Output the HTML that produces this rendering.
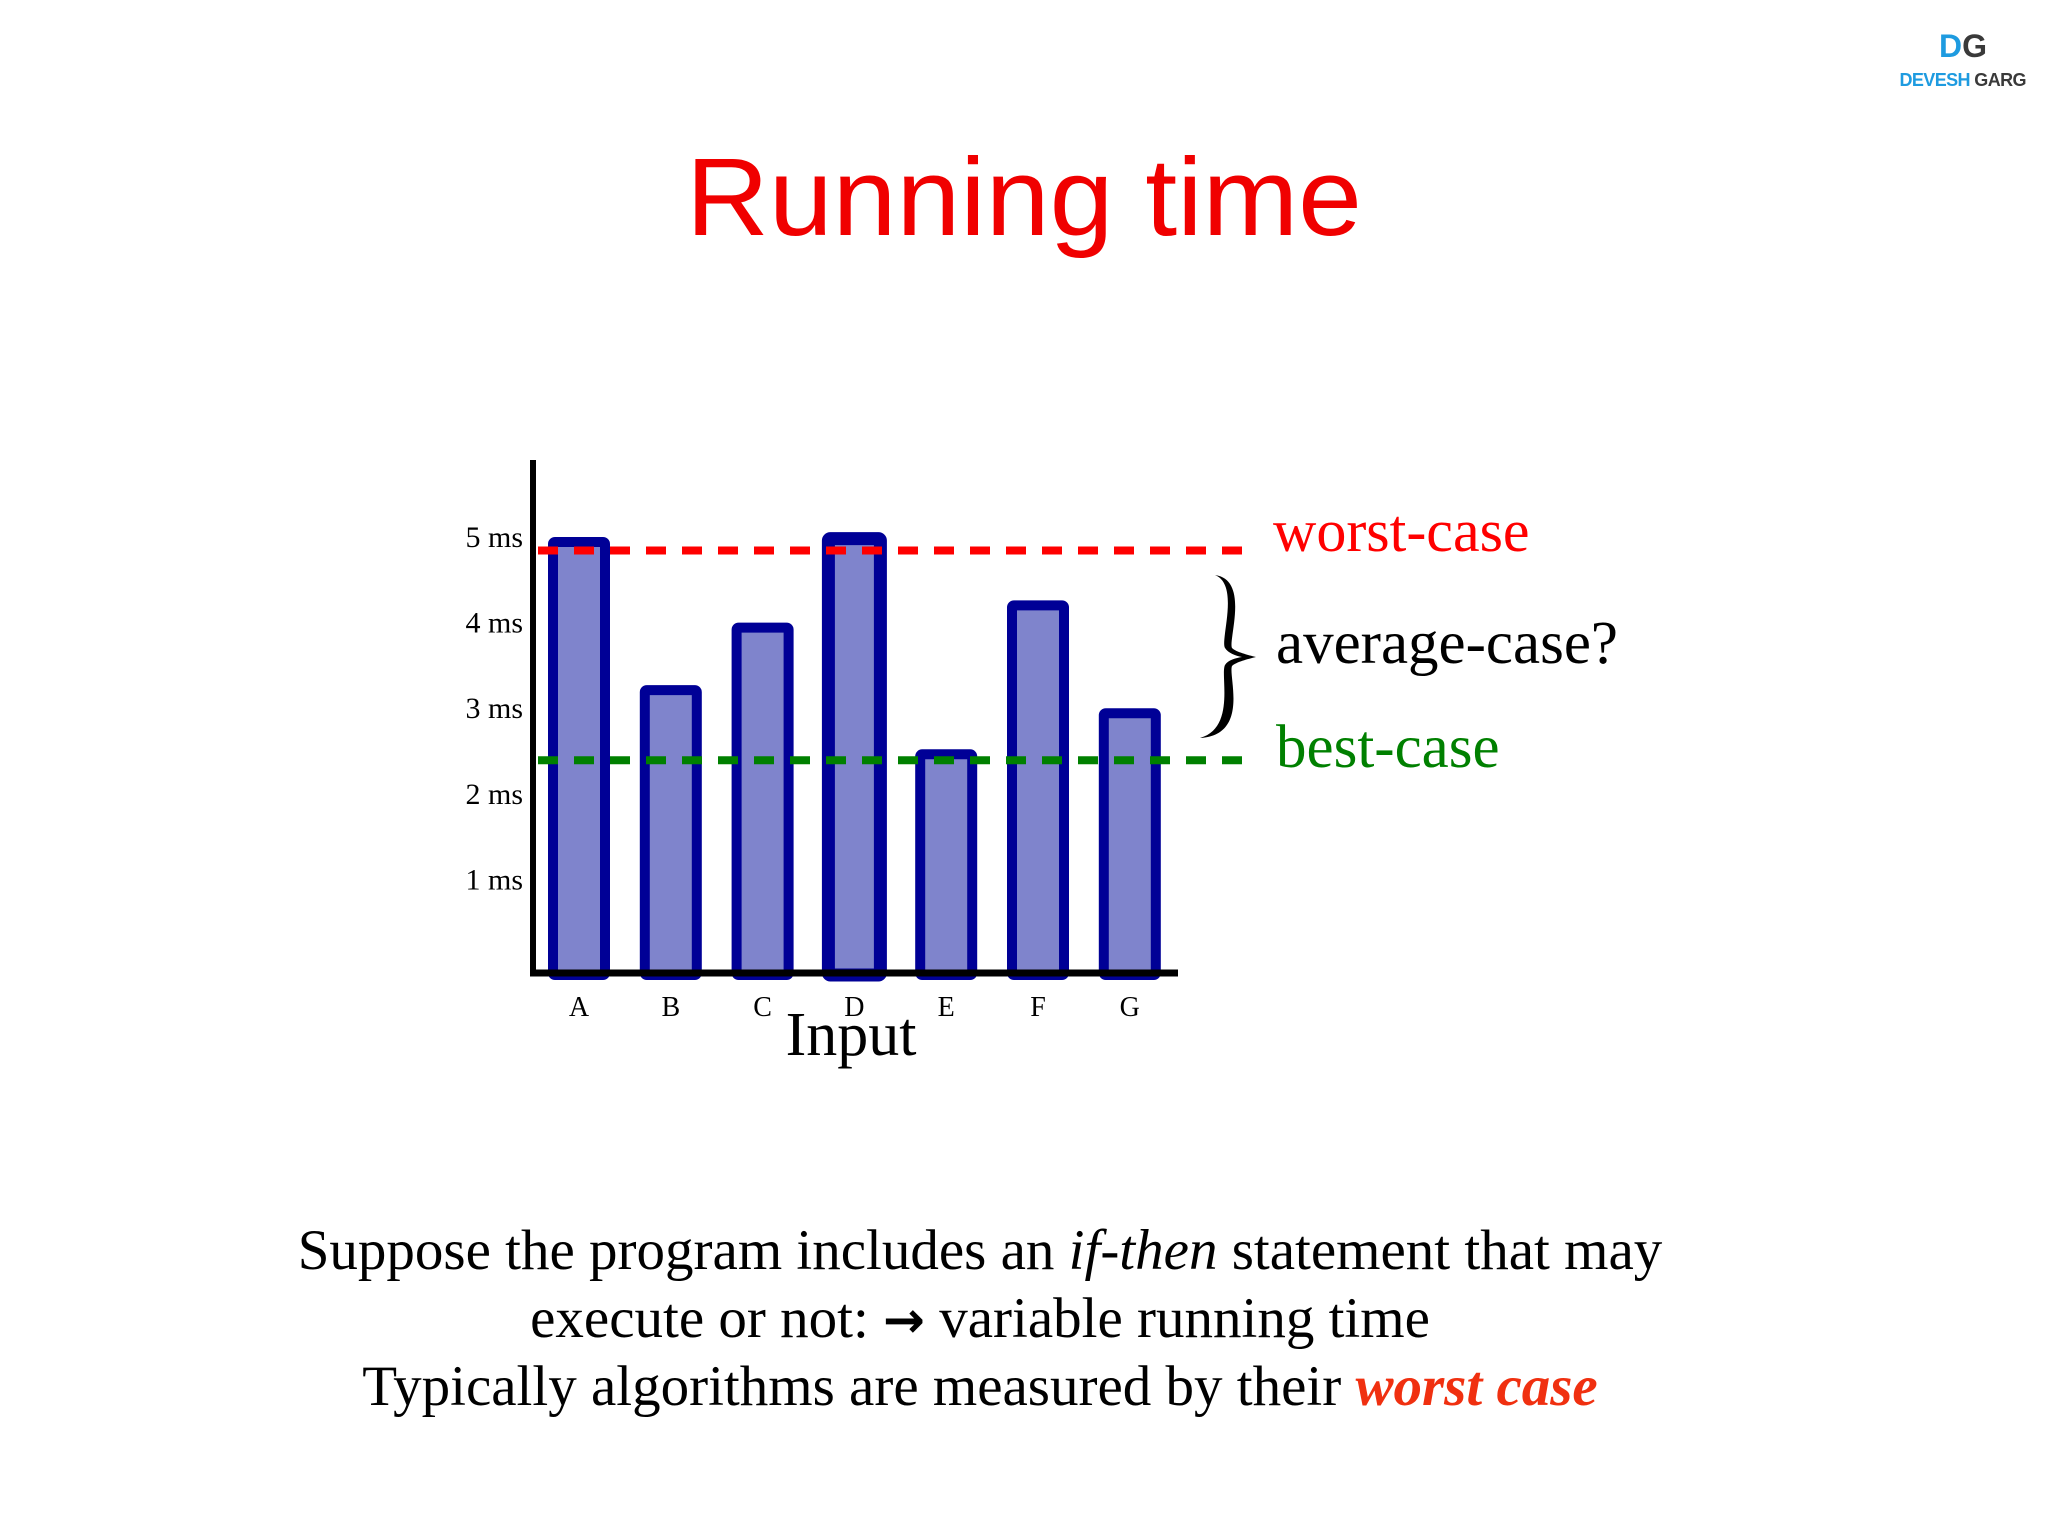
<!DOCTYPE html>
<html><head><meta charset="utf-8"><style>
html,body{margin:0;padding:0;background:#fff;width:2048px;height:1536px;overflow:hidden}
svg{display:block}
</style></head><body>
<svg id="chart" width="2048" height="1536" viewBox="0 0 2048 1536" xmlns="http://www.w3.org/2000/svg">
<g>
<text x="1963" y="57" text-anchor="middle" font-family="Liberation Sans, sans-serif" font-weight="bold" font-size="32"><tspan fill="#1e9be0">D</tspan><tspan fill="#3a3a3a">G</tspan></text>
<text x="1963" y="86" text-anchor="middle" font-family="Liberation Sans, sans-serif" font-weight="bold" font-size="18" textLength="127"><tspan fill="#1e9be0">DEVESH</tspan><tspan fill="#3a3a3a"> GARG</tspan></text>
</g>
<text x="1024" y="235" text-anchor="middle" font-family="Liberation Sans, sans-serif" font-size="110" fill="#f00000" textLength="676" lengthAdjust="spacingAndGlyphs">Running time</text>
<g id="plot"></g>
<g>
<text x="1273" y="551" font-family="Liberation Serif, serif" font-size="60" fill="#ff0000">worst-case</text>
<text x="1276" y="663" font-family="Liberation Serif, serif" font-size="61" fill="#000">average-case?</text>
<text x="1276" y="767" font-family="Liberation Serif, serif" font-size="61" fill="#008000">best-case</text>
<path d="M1215 575 C1250 580,1228 640,1232 648 C1236 652,1248 655,1256 657 C1248 659,1236 662,1232 666 C1228 676,1250 735,1200 738 C1236 728,1220 675,1225 665 C1228 660,1236 658,1242 657 C1236 656,1228 653,1225 648 C1220 640,1240 585,1215 575 Z" fill="#000"/>
</g>
<g font-family="Liberation Serif, serif" font-size="57" fill="#000" text-anchor="middle">
<text x="980" y="1269">Suppose the program includes an <tspan font-style="italic">if-then</tspan> statement that may</text>
<text x="980" y="1337">execute or not: <tspan font-family="DejaVu Sans, sans-serif" font-weight="bold" font-size="50">→</tspan> variable running time</text>
<text x="980" y="1405">Typically algorithms are measured by their <tspan font-style="italic" font-weight="bold" fill="#f03010">worst case</tspan></text>
</g>
</svg>
<script>
const categories = ['A','B','C','D','E','F','G'];
const values = [5.0, 3.27, 4.0, 5.04, 2.52, 4.26, 3.0];
const tickValues = [1,2,3,4,5];
const tickLabels = ['1 ms','2 ms','3 ms','4 ms','5 ms'];
const worstCase = 4.9;
const bestCase = 2.45;

const NS = 'http://www.w3.org/2000/svg';
const plot = document.getElementById('plot');
const x0 = 533, y0 = 970, unit = 85.6, step = 91.8, firstX = 579;
const yS = v => y0 - v * unit;
const xS = i => firstX + i * step;
function mk(tag, attrs) {
  const e = document.createElementNS(NS, tag);
  for (const k in attrs) e.setAttribute(k, attrs[k]);
  plot.appendChild(e);
  return e;
}
categories.forEach((c, i) => {
  const top = yS(values[i]);
  const r = mk('rect', {x: xS(i) - 26, y: top, width: 52, height: 975 - top, fill: '#7f84cc', stroke: '#000096', 'stroke-width': i === 3 ? 13 : 10, rx: 2});
  
  
  const t = mk('text', {x: xS(i), y: 1016, 'text-anchor': 'middle', 'font-family': 'Liberation Serif, serif', 'font-size': 28});
  t.textContent = c;
  
  
});
tickValues.forEach((v, i) => {
  const t = mk('text', {x: 523, y: yS(v) + 5, 'text-anchor': 'end', 'font-family': 'Liberation Serif, serif', 'font-size': 30});
  t.textContent = tickLabels[i];
  
  
});
const wl = mk('line', {x1: 538, x2: 1250, y1: yS(worstCase), y2: yS(worstCase), stroke: '#ff0000', 'stroke-width': 8, 'stroke-dasharray': '20 16'});


const bl = mk('line', {x1: 538, x2: 1250, y1: yS(bestCase), y2: yS(bestCase), stroke: '#008000', 'stroke-width': 8, 'stroke-dasharray': '20 16'});


const ya = mk('line', {x1: x0, x2: x0, y1: 460, y2: 976, stroke: '#000', 'stroke-width': 6});


const xa = mk('line', {x1: 530, x2: 1178, y1: 973, y2: 973, stroke: '#000', 'stroke-width': 7});


const xt = mk('text', {x: 851, y: 1055, 'text-anchor': 'middle', 'font-family': 'Liberation Serif, serif', 'font-size': 62});
xt.textContent = 'Input';


</script>
</body></html>
